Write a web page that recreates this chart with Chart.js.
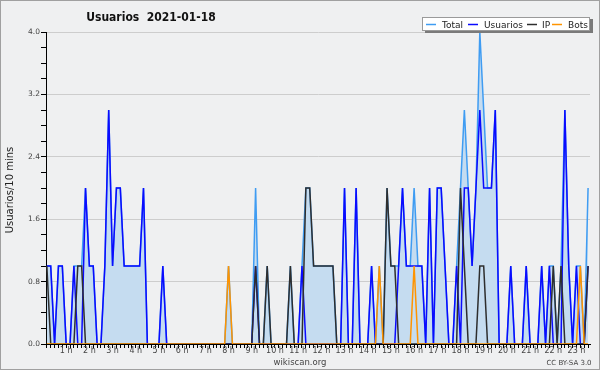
<!DOCTYPE html>
<html><head><meta charset="utf-8">
<script src="https://cdn.jsdelivr.net/npm/chart.js@4/dist/chart.umd.min.js"></script>
<style>html,body{margin:0;padding:0;background:#eff0f1;}canvas{display:block;}</style>
</head><body>
<canvas id="c" width="600" height="370"></canvas>
<script>
// 10-minute slots of 2021-01-18, first slot = 00:10 (position 1), hour h sits at position 6*h
const hourLabels = ['1 h','2 h','3 h','4 h','5 h','6 h','7 h','8 h','9 h','10 h','11 h','12 h',
  '13 h','14 h','15 h','16 h','17 h','18 h','19 h','20 h','21 h','22 h','23 h'];
const yTickLabels = ['0.0','0.8','1.6','2.4','3.2','4.0'];

const totalSeries = [
 1,1,0,1,1,0, 0,1,1,1,2,1, 1,0,0,1,3,1, 2,2,1,1,1,1, 1,2,0,0,0,0, 1,0,0,0,0,0,
 0,0,0,0,0,0, 0,0,0,0,0,1, 0,0,0,0,0,0, 2,0,0,1,0,0, 0,0,0,1,0,0, 1,2,2,1,1,1,
 1,1,1,0,0,2, 0,0,2,0,0,0, 1,0,1,0,2,1, 1,1,2,1,1,2, 1,1,0,2,0,2, 2,1,0,0,1,2,
 3,2,1,2,4,3, 2,2,3,0,0,0, 1,0,0,0,1,0, 0,0,1,0,1,1, 0,1,3,1,0,1, 1,0,2];
const usuariosSeries = [
 1,1,0,1,1,0, 0,1,0,0,2,1, 1,0,0,1,3,1, 2,2,1,1,1,1, 1,2,0,0,0,0, 1,0,0,0,0,0,
 0,0,0,0,0,0, 0,0,0,0,0,0, 0,0,0,0,0,0, 1,0,0,0,0,0, 0,0,0,0,0,0, 1,0,0,0,0,0,
 0,0,0,0,0,2, 0,0,2,0,0,0, 1,0,0,0,0,0, 0,1,2,1,1,1, 1,1,0,2,0,2, 2,1,0,0,1,0,
 2,2,1,2,3,2, 2,2,3,0,0,0, 1,0,0,0,1,0, 0,0,1,0,1,0, 0,0,3,1,0,1, 0,0,1];
const ipSeries = [
 1,0,0,0,0,0, 0,0,1,1,0,0, 0,0,0,0,0,0, 0,0,0,0,0,0, 0,0,0,0,0,0, 0,0,0,0,0,0,
 0,0,0,0,0,0, 0,0,0,0,0,0, 0,0,0,0,0,0, 1,0,0,1,0,0, 0,0,0,1,0,0, 0,2,2,1,1,1,
 1,1,1,0,0,0, 0,0,0,0,0,0, 0,0,0,0,2,1, 1,0,0,0,0,0, 0,0,0,0,0,0, 0,0,0,0,0,2,
 1,0,0,0,1,1, 0,0,0,0,0,0, 0,0,0,0,0,0, 0,0,0,0,0,1, 0,1,0,0,0,0, 0,0,1];
const botsSeries = [
 0,0,0,0,0,0, 0,0,0,0,0,0, 0,0,0,0,0,0, 0,0,0,0,0,0, 0,0,0,0,0,0, 0,0,0,0,0,0,
 0,0,0,0,0,0, 0,0,0,0,0,1, 0,0,0,0,0,0, 0,0,0,0,0,0, 0,0,0,0,0,0, 0,0,0,0,0,0,
 0,0,0,0,0,0, 0,0,0,0,0,0, 0,0,1,0,0,0, 0,0,0,0,0,1, 0,0,0,0,0,0, 0,0,0,0,0,0,
 0,0,0,0,0,0, 0,0,0,0,0,0, 0,0,0,0,0,0, 0,0,0,0,0,0, 0,0,0,0,0,0, 1,0,0];
const seriesNames = ['Total','Usuarios','IP','Bots'];

const COL = {total:'#3f9cf2', usuarios:'#0a0aff', ip:'#2e2e2e', bots:'#ff9400', fill:'#c5dcf0'};
const FONT = 'DejaVu Sans';

const toPts = arr => arr.map((v, i) => ({x: i + 1, y: v}));
const lineDs = (label, arr, color, order, extra) => Object.assign({
  label, data: toPts(arr), borderColor: color, borderWidth: 1.5, pointRadius: 0,
  tension: 0, fill: false, order
}, extra || {});

const deco = {
  id: 'deco',
  beforeDraw(chart) {
    const c = chart.ctx;
    c.save(); c.fillStyle = '#eff0f1'; c.fillRect(0, 0, chart.width, chart.height); c.restore();
  },
  afterDraw(chart) {
    const c = chart.ctx;
    c.save();
    // frame
    c.strokeStyle = '#a0a0a0'; c.lineWidth = 1;
    c.strokeRect(0.5, 0.5, chart.width - 1, chart.height - 1);
    // title
    c.fillStyle = '#111'; c.textAlign = 'center'; c.textBaseline = 'alphabetic';
    c.font = 'bold 12px "DejaVu Sans Condensed", "' + FONT + '"';
    c.fillText('Usuarios  2021-01-18', 151, 21);
    // y axis title
    c.save();
    c.translate(13, 190); c.rotate(-Math.PI / 2);
    c.font = '10px ' + FONT; c.fillStyle = '#222'; c.textAlign = 'center';
    c.fillText('Usuarios/10 mins', 0, 0);
    c.restore();
    // footer
    c.fillStyle = '#444'; c.textAlign = 'center';
    c.font = '8.5px ' + FONT; c.fillText('wikiscan.org', 300, 365);
    c.font = '7px ' + FONT; c.fillText('CC BY-SA 3.0', 569, 365);
    // legend
    c.fillStyle = '#7a7a7a'; c.fillRect(425, 19, 168, 14);
    c.fillStyle = '#ffffff'; c.fillRect(422, 17, 168, 14);
    c.strokeStyle = '#9a9a9a'; c.strokeRect(422.5, 17.5, 167, 13);
    const items = [
      {name: seriesNames[0], col: COL.total, lx: 426, tx: 442},
      {name: seriesNames[1], col: COL.usuarios, lx: 468, tx: 484},
      {name: seriesNames[2], col: COL.ip, lx: 527, tx: 542},
      {name: seriesNames[3], col: COL.bots, lx: 552, tx: 568}
    ];
    c.font = '9px ' + FONT; c.textAlign = 'left'; c.textBaseline = 'alphabetic';
    items.forEach(it => {
      c.strokeStyle = it.col; c.lineWidth = 1.5;
      c.beginPath(); c.moveTo(it.lx, 24.5); c.lineTo(it.lx + 10, 24.5); c.stroke();
      c.fillStyle = '#222'; c.fillText(it.name, it.tx, 28);
    });
    c.restore();
  }
};

const isMajorY = v => Math.abs(v / 0.8 - Math.round(v / 0.8)) < 1e-6;

new Chart(document.getElementById('c'), {
  type: 'line',
  data: {
    datasets: [
      lineDs(seriesNames[0], totalSeries, COL.total, 4, {fill: 'origin', backgroundColor: COL.fill}),
      lineDs(seriesNames[1], usuariosSeries, COL.usuarios, 3),
      lineDs(seriesNames[2], ipSeries, COL.ip, 2),
      lineDs(seriesNames[3], botsSeries, COL.bots, 1)
    ]
  },
  options: {
    responsive: false, devicePixelRatio: 1, animation: false,
    layout: {padding: {top: 32, right: 10, left: 0, bottom: 0}},
    plugins: {legend: {display: false}, tooltip: {enabled: false}, title: {display: false}},
    scales: {
      x: {
        type: 'linear', min: 0.78, max: 141.5,
        afterFit: s => { s.height = 26; },
        afterBuildTicks: s => { s.ticks = totalSeries.map((_, i) => ({value: i + 1})); },
        grid: {drawOnChartArea: false, tickLength: 4, tickColor: '#000', tickWidth: 1},
        border: {color: '#000', width: 1},
        ticks: {
          autoSkip: false, maxRotation: 0, padding: -2, color: '#444',
          font: {family: FONT, size: 8},
          callback: v => (v % 6 === 0 && hourLabels[v / 6 - 1]) ? hourLabels[v / 6 - 1] : ''
        }
      },
      y: {
        min: 0, max: 4,
        afterFit: s => { s.width = 46; },
        grid: {
          color: ctx => isMajorY(ctx.tick.value) ? '#cdcdcd' : 'rgba(0,0,0,0)',
          tickColor: '#000', tickLength: 5, lineWidth: 1
        },
        border: {color: '#000', width: 1},
        ticks: {
          stepSize: 0.2, autoSkip: false, padding: 1, color: '#444',
          font: {family: FONT, size: 7.5},
          callback: v => isMajorY(v) ? yTickLabels[Math.round(v / 0.8)] : ''
        }
      }
    }
  },
  plugins: [deco]
});
</script>
</body></html>
